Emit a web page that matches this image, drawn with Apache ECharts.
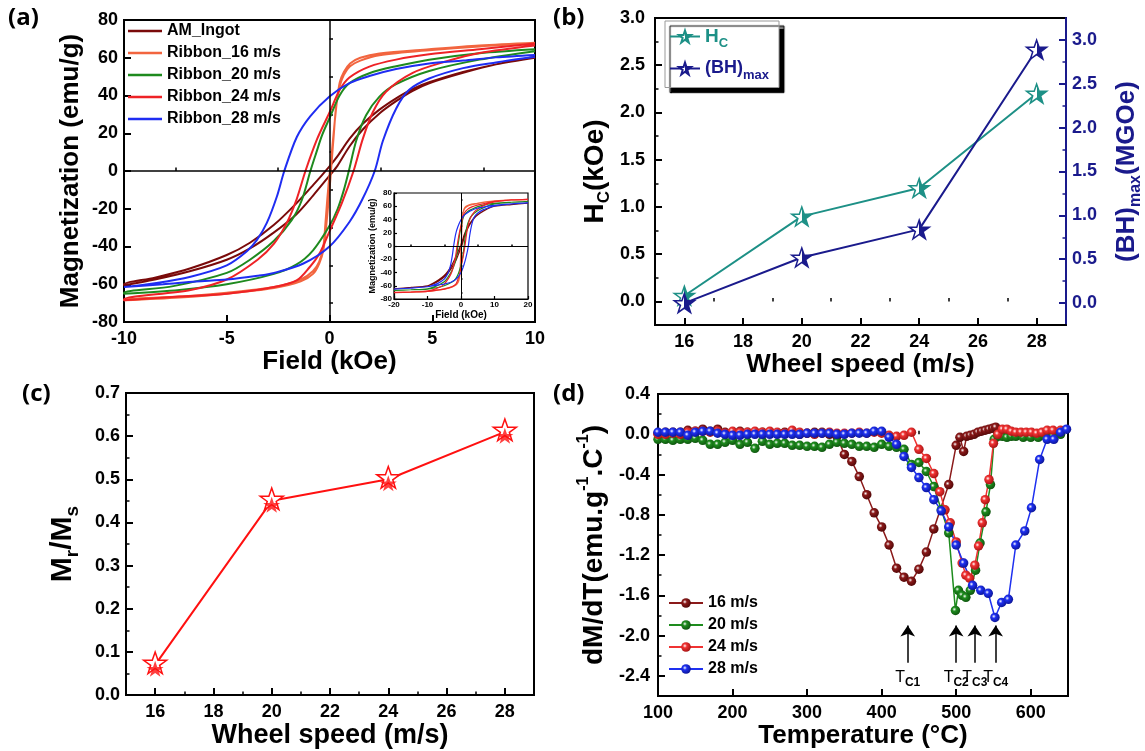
<!DOCTYPE html>
<html>
<head>
<meta charset="utf-8">
<title>Ribbons: hysteresis, coercivity, remanence, dM/dT</title>
<script src="https://cdn.jsdelivr.net/npm/echarts@6/dist/echarts.min.js"></script>
<style>
html, body { margin: 0; padding: 0; background: #fff; }
#chart { width: 1145px; height: 751px; }
</style>
</head>
<body>
<div id="chart"></div>
<script>
// ---- (a) M-H loops, [field kOe, M emu/g]; upper = descending branch, lower = ascending
const ingotUpper = [[10, 60.5], [8.1, 56.5], [6.5, 52.5], [4.85, 47], [4.05, 43.5], [3.24, 38.5], [2.43, 32.5], [1.62, 25], [0.97, 17], [0.4, 8], [0, 2.5], [-0.8, -7.5], [-1.6, -17], [-2.7, -28.5], [-3.87, -38], [-5, -44.5], [-6.76, -51.5], [-8.5, -56.5], [-10, -60]];
const ingotLower = [[-10, -60.5], [-8.5, -57.5], [-6.76, -53], [-5, -47], [-3.87, -41], [-2.7, -32.5], [-1.62, -23], [-0.8, -13], [0, -2.5], [0.4, 3], [0.97, 13], [1.62, 22], [2.43, 30.5], [3.24, 37], [4.05, 42.5], [4.85, 46.5], [6.5, 52], [8.1, 56.5], [10, 60]];
const r16Upper = [[10, 68], [7.3, 66.5], [4.85, 64.5], [2.43, 62.3], [1.5, 60], [1.0, 57], [0.7, 52.5], [0.5, 47], [0.35, 36], [0.2, 20], [0.08, 6], [0, -2], [-0.1, -14], [-0.2, -28], [-0.3, -40], [-0.5, -48], [-0.8, -53], [-1.4, -57.5], [-2.7, -61.5], [-5, -64.5], [-7.3, -66.5], [-10, -68]];
const r16Lower = [[-10, -68.5], [-7.3, -67], [-5, -65], [-2.7, -62], [-1.4, -58.5], [-0.8, -54.5], [-0.5, -49], [-0.3, -42], [-0.15, -28], [0, -10], [0.1, 4], [0.2, 18], [0.32, 34], [0.5, 45], [0.7, 51], [1.0, 55.5], [1.5, 58.5], [2.43, 61.3], [4.85, 64], [7.3, 66], [10, 67.5]];
const r20Upper = [[10, 64.5], [7.3, 62.4], [4.85, 59], [3.24, 55.5], [1.94, 51.8], [0.97, 46.5], [0.49, 40], [0, 28], [-0.36, 19], [-0.65, 9.5], [-0.93, 0], [-1.35, -15.5], [-1.84, -26], [-2.7, -37], [-3.87, -47], [-5, -54], [-7.6, -61], [-10, -64.5]];
const r20Lower = [[-10, -65], [-7.3, -63], [-5, -60], [-2.7, -54.5], [-1.6, -49.5], [-0.8, -42], [0, -29], [0.4, -20], [0.7, -10], [0.94, 0], [1.3, 16], [1.78, 29.5], [2.43, 39.4], [3.24, 46], [4.85, 53], [7.3, 59], [10, 63.5]];
const r24Upper = [[10, 67.5], [7.3, 64.5], [4.85, 61.8], [3.24, 59], [1.94, 55.3], [0.97, 49.5], [0.5, 43], [0, 31], [-0.6, 17], [-1.17, 0], [-1.6, -15], [-2.08, -27.5], [-2.7, -38.5], [-3.5, -47], [-5, -57.5], [-6.76, -63], [-10, -68]];
const r24Lower = [[-10, -68.5], [-7.3, -66.5], [-5, -65], [-2.7, -61.5], [-1.6, -58], [-0.97, -51], [-0.5, -44], [0, -32], [0.6, -17], [1.17, 0], [1.62, 17], [2.1, 31], [2.75, 42], [4.05, 52], [5.66, 58], [7.3, 62.5], [10, 66.5]];
const r28Upper = [[10, 61.5], [8.1, 60.2], [6.5, 58.5], [4.85, 57], [3.24, 54], [1.94, 50.3], [0.97, 46.5], [0, 39.5], [-0.94, 29], [-1.59, 18], [-2.2, 0], [-2.56, -13.5], [-3.05, -27.5], [-3.53, -36.5], [-4.02, -42.5], [-5, -50], [-6.76, -56], [-8.5, -59.5], [-10, -61.5]];
const r28Lower = [[-10, -61.5], [-8.1, -60], [-6.5, -58.5], [-5, -57.5], [-3.5, -55.5], [-2.7, -54], [-1.27, -49], [0, -40], [0.97, -27], [1.6, -15], [2.2, 0], [2.6, 16], [3.24, 33], [3.88, 43], [4.85, 49], [6.5, 54.5], [8.1, 57.5], [10, 60.5]];

// inset: high-field ends of each loop at these fields
const tailFields = [20, 15, -15, -20];
const ingotTail = [64.5, 62.5, -62.5, -64.5];
const r16Tail = [70, 69.5, -69.5, -70];
const r20Tail = [67, 66, -66, -67];
const r24Tail = [70.5, 69.5, -69.5, -70.5];
const r28Tail = [65, 63.5, -63.5, -65];

const loopNames = ['AM_Ingot', 'Ribbon_16 m/s', 'Ribbon_20 m/s', 'Ribbon_24 m/s', 'Ribbon_28 m/s'];
const loopColors = ['#7a0a0a', '#f2653f', '#1e8a1e', '#ee2226', '#1f2df2'];

// ---- (b), (c) vs wheel speed
const speeds = [16, 20, 24, 28];
const hcValues = [0.06, 0.9, 1.2, 2.2];       // kOe
const bhmaxValues = [0.0, 0.52, 0.84, 2.89];  // MGOe
const mrmsValues = [0.07, 0.45, 0.50, 0.61];

// ---- (d) dM/dT curves, [T degC, dM/dT]
const dmdt16 = [[100, 0.01], [110, 0.02], [120, 0.02], [130, 0.02], [140, 0.04], [150, 0.03], [160, 0.05], [170, 0.03], [180, 0.05], [190, 0.02], [200, 0.01], [210, 0.03], [220, 0.02], [230, 0.01], [240, 0.02], [250, 0.02], [260, 0.01], [270, 0.02], [280, 0.02], [290, 0.0], [300, 0.01], [310, 0.02], [320, 0.02], [330, 0.0], [340, -0.02], [350, -0.2], [360, -0.27], [370, -0.42], [380, -0.6], [390, -0.78], [400, -0.92], [410, -1.1], [420, -1.33], [430, -1.42], [440, -1.46], [450, -1.34], [460, -1.17], [470, -0.94], [490, -0.5], [500, -0.11], [505, -0.03], [510, -0.17], [514, -0.02], [519, -0.01], [524, 0.0], [529, 0.02], [534, 0.03], [539, 0.04], [544, 0.05], [549, 0.06], [553, 0.07]];
const dmdt20 = [[100, -0.05], [110, -0.05], [120, -0.06], [130, -0.05], [140, -0.05], [150, -0.04], [160, -0.06], [170, -0.1], [180, -0.1], [190, -0.08], [200, -0.06], [210, -0.1], [220, -0.08], [230, -0.14], [240, -0.07], [250, -0.1], [260, -0.09], [270, -0.09], [280, -0.11], [290, -0.11], [300, -0.12], [310, -0.12], [320, -0.13], [330, -0.1], [340, -0.08], [350, -0.09], [360, -0.1], [370, -0.12], [380, -0.12], [390, -0.13], [400, -0.1], [410, -0.12], [420, -0.13], [430, -0.15], [440, -0.3], [450, -0.28], [460, -0.37], [470, -0.52], [480, -0.75], [490, -0.98], [499, -1.75], [503, -1.55], [508, -1.6], [513, -1.62], [519, -1.55], [526, -1.35], [532, -1.08], [540, -0.77], [546, -0.5], [551, -0.05], [556, -0.02], [562, -0.02], [568, -0.03], [574, -0.02], [580, -0.02], [590, -0.03], [600, -0.03], [610, -0.03], [620, -0.02], [630, -0.02], [640, 0.0]];
const dmdt24 = [[100, 0.0], [110, 0.0], [120, 0.01], [130, 0.0], [140, 0.02], [150, 0.03], [160, 0.03], [170, 0.02], [180, 0.03], [190, 0.01], [200, 0.03], [210, 0.02], [220, 0.02], [230, 0.03], [240, 0.02], [250, 0.03], [260, 0.02], [270, 0.01], [280, 0.04], [290, 0.02], [300, 0.01], [310, 0.0], [320, 0.01], [330, 0.02], [340, 0.01], [350, 0.01], [360, 0.01], [370, 0.02], [380, 0.01], [390, 0.02], [400, 0.01], [410, -0.01], [420, -0.02], [430, -0.01], [440, 0.02], [450, -0.15], [460, -0.24], [470, -0.39], [478, -0.57], [485, -0.75], [492, -0.88], [500, -1.07], [508, -1.28], [513, -1.4], [518, -1.43], [525, -1.3], [530, -1.11], [535, -0.88], [539, -0.65], [544, -0.45], [550, -0.09], [556, 0.0], [562, 0.05], [568, 0.05], [574, 0.03], [580, 0.02], [587, 0.02], [594, 0.02], [601, 0.02], [608, 0.01], [615, 0.02], [622, 0.04], [630, 0.04], [640, 0.04]];
const dmdt28 = [[100, 0.02], [110, 0.02], [120, 0.02], [130, 0.02], [140, -0.01], [150, 0.02], [160, 0.03], [170, 0.03], [180, 0.01], [190, 0.0], [200, -0.01], [210, -0.01], [220, 0.0], [230, 0.0], [240, 0.0], [250, 0.0], [260, 0.0], [270, 0.0], [280, 0.0], [290, 0.0], [300, 0.01], [310, 0.01], [320, 0.01], [330, 0.01], [340, 0.0], [350, 0.0], [360, 0.01], [370, 0.01], [380, 0.01], [390, 0.03], [400, 0.03], [410, -0.03], [420, -0.1], [430, -0.22], [440, -0.33], [450, -0.43], [460, -0.53], [470, -0.65], [480, -0.76], [490, -0.92], [500, -1.1], [510, -1.28], [522, -1.5], [533, -1.55], [543, -1.58], [552, -1.82], [561, -1.67], [570, -1.64], [580, -1.1], [592, -0.96], [601, -0.73], [612, -0.25], [622, -0.05], [631, -0.05], [640, 0.02], [648, 0.05]];
const dmdtNames = ['16 m/s', '20 m/s', '24 m/s', '28 m/s'];
const dmdtColors = ['#8b1a1a', '#1e8c1e', '#f03232', '#1e30f0'];
const dmdtDark = ['#4a0505', '#0c4d0c', '#9c0f0f', '#0a128c'];
const tcTemps = [435, 500, 525, 553];
const tcLabels = ['C1', 'C2', 'C3', 'C4'];

// ---- tick values
const fieldMajor = [-10, -5, 0, 5, 10], fieldMinor = [-7.5, -2.5, 2.5, 7.5];
const magMajor = [-80, -60, -40, -20, 0, 20, 40, 60, 80], magMinor = [-70, -50, -30, -10, 10, 30, 50, 70];
const insetFieldMajor = [-20, -10, 0, 10, 20], insetFieldMinor = [-15, -5, 5, 15];
const speedMajor = [16, 18, 20, 22, 24, 26, 28], speedMinor = [17, 19, 21, 23, 25, 27];
const hcMajor = [0, 0.5, 1, 1.5, 2, 2.5, 3], hcMinor = [0.25, 0.75, 1.25, 1.75, 2.25, 2.75];
const bhMajor = [0, 0.5, 1, 1.5, 2, 2.5, 3], bhMinor = [0.25, 0.75, 1.25, 1.75, 2.25, 2.75];
const mrMajor = [0, 0.1, 0.2, 0.3, 0.4, 0.5, 0.6, 0.7], mrMinor = [0.05, 0.15, 0.25, 0.35, 0.45, 0.55, 0.65];
const tempMajor = [100, 200, 300, 400, 500, 600], tempMinor = [150, 250, 350, 450, 550];
const dmMajor = [0.4, 0, -0.4, -0.8, -1.2, -1.6, -2.0, -2.4], dmMinor = [0.2, -0.2, -0.6, -1.0, -1.4, -1.8, -2.2];

const FONT = 'Liberation Sans';
const NAVY = '#1a1a8c', TEAL = '#1d9086', RED = '#ff1010';
const STAR = 'path://M50 2 L61.8 36.2 L97.6 36.2 L68.6 57.4 L79.6 91.6 L50 70.4 L20.4 91.6 L31.4 57.4 L2.4 36.2 L38.2 36.2 Z';

function nameStyle(size, color) {
  color = color || '#000';
  const sub = Math.round(size * 0.62);
  return {
    fontFamily: FONT, fontWeight: 'bold', fontSize: size, color: color,
    rich: {
      n: {fontFamily: FONT, fontWeight: 'bold', fontSize: size, color: color, lineHeight: size + 8},
      s: {fontFamily: FONT, fontWeight: 'bold', fontSize: sub, color: color, lineHeight: sub, verticalAlign: 'bottom'},
      p: {fontFamily: FONT, fontWeight: 'bold', fontSize: sub - 1, color: color, lineHeight: sub, verticalAlign: 'top'}
    }
  };
}

// main axis (labels + long ticks) and an overlaid axis that only carries the short minor ticks
function axisPair(gridIndex, min, max, major, minor, pos, o) {
  const color = o.color || '#000';
  const len = o.tickLen || 7;
  const main = {
    type: 'value', gridIndex: gridIndex, min: min, max: max, position: pos,
    axisLine: {show: true, onZero: false, lineStyle: {color: color, width: o.lineWidth || 2}},
    axisTick: {show: true, inside: true, length: len, customValues: major, lineStyle: {color: color, width: o.lineWidth || 2}},
    axisLabel: {show: true, customValues: major, formatter: o.fmt, margin: o.margin || 8,
      color: color, fontFamily: FONT, fontWeight: 'bold', fontSize: o.fontSize || 18},
    splitLine: {show: false},
    name: o.name || '', nameLocation: 'middle', nameGap: o.nameGap || 30,
    nameTextStyle: nameStyle(o.nameSize || 26, color)
  };
  const sub = {
    type: 'value', gridIndex: gridIndex, min: min, max: max, position: pos,
    axisLine: {show: false}, axisLabel: {show: false}, splitLine: {show: false},
    axisTick: {show: true, inside: true, length: len / 2, customValues: minor, lineStyle: {color: color, width: 1.5}}
  };
  return [main, sub];
}

const fix1 = v => v.toFixed(1);

const xAxes = [].concat(
  axisPair(0, -10, 10, fieldMajor, fieldMinor, 'bottom', {name: 'Field (kOe)', nameGap: 27}),
  axisPair(1, -20, 20, insetFieldMajor, insetFieldMinor, 'bottom', {name: 'Field (kOe)', nameGap: 9, nameSize: 10, fontSize: 8, margin: 2, tickLen: 3, lineWidth: 1.2}),
  axisPair(2, 15, 29, speedMajor, speedMinor, 'bottom', {name: 'Wheel speed (m/s)', nameGap: 25}),
  axisPair(3, 15, 29, speedMajor, speedMinor, 'bottom', {name: 'Wheel speed (m/s)', nameGap: 25, nameSize: 27}),
  axisPair(4, 100, 650, tempMajor, tempMinor, 'bottom', {name: 'Temperature (°C)', nameGap: 25})
);
const yAxes = [].concat(
  axisPair(0, -80, 80, magMajor, magMinor, 'left', {name: 'Magnetization (emu/g)', nameGap: 40, margin: 6}),
  axisPair(1, -80, 80, magMajor, magMinor, 'left', {name: 'Magnetization (emu/g)', nameGap: 13, nameSize: 9, fontSize: 8, margin: 2, tickLen: 3, lineWidth: 1.2}),
  axisPair(2, -0.25, 3, hcMajor, hcMinor, 'left', {name: '{n|H}{s|C}{n|(kOe)}', nameGap: 42, nameSize: 28, fmt: fix1, margin: 10}),
  axisPair(2, -0.25, 3.25, bhMajor, bhMinor, 'right', {name: '{n|(BH)}{s|max}{n|(MGOe)}', nameGap: 44, fmt: fix1, color: NAVY, margin: 6}),
  axisPair(3, 0, 0.7, mrMajor, mrMinor, 'left', {name: '{n|M}{s|r}{n|/M}{s|s}', nameGap: 44, nameSize: 30, fmt: fix1, margin: 6}),
  axisPair(4, -2.6, 0.4, dmMajor, dmMinor, 'left', {name: '{n|dM/dT(emu.g}{p|-1}{n|.C}{p|-1}{n|)}', nameGap: 46, nameSize: 28, fmt: fix1, margin: 8})
);

const series = [];

// (a) main loops + inset loops
const uppers = [ingotUpper, r16Upper, r20Upper, r24Upper, r28Upper];
const lowers = [ingotLower, r16Lower, r20Lower, r24Lower, r28Lower];
const tails = [ingotTail, r16Tail, r20Tail, r24Tail, r28Tail];
function insetLoop(upper, lower, tail) {
  const hi = [[tailFields[0], tail[0]], [tailFields[1], tail[1]]];
  const lo = [[tailFields[2], tail[2]], [tailFields[3], tail[3]]];
  return hi.concat(upper, lo, lo.slice().reverse(), lower, hi.slice().reverse());
}
const zeroLines = width => ({
  silent: true, symbol: 'none', animation: false, label: {show: false},
  lineStyle: {color: '#000', width: width, type: 'solid'},
  data: [{xAxis: 0}, {yAxis: 0}]
});
loopNames.forEach((name, i) => {
  series.push({
    name: name, type: 'line', xAxisIndex: 0, yAxisIndex: 0,
    data: uppers[i].concat(lowers[i]), symbol: 'none', smooth: 0.3,
    lineStyle: {color: loopColors[i], width: 2}, itemStyle: {color: loopColors[i]},
    markLine: i === 0 ? zeroLines(1.5) : undefined
  });
});
loopNames.forEach((name, i) => {
  series.push({
    name: 'inset ' + name, type: 'line', xAxisIndex: 2, yAxisIndex: 2,
    data: insetLoop(uppers[i], lowers[i], tails[i]), symbol: 'none', smooth: 0.3,
    lineStyle: {color: loopColors[i], width: 1.2}, itemStyle: {color: loopColors[i]},
    markLine: i === 0 ? zeroLines(1) : undefined
  });
});

// (b) Hc and (BH)max
function halfStar(c) {
  return {type: 'linear', x: 0, y: 0, x2: 1, y2: 0,
    colorStops: [{offset: 0, color: '#fff'}, {offset: 0.5, color: '#fff'}, {offset: 0.5, color: c}, {offset: 1, color: c}]};
}
series.push({
  name: 'Hc', type: 'line', xAxisIndex: 4, yAxisIndex: 4,
  data: speeds.map((s, i) => [s, hcValues[i]]),
  symbol: STAR, symbolSize: 20, symbolKeepAspect: true,
  lineStyle: {color: TEAL, width: 2}, itemStyle: {color: halfStar(TEAL), borderColor: TEAL, borderWidth: 1.5}
});
series.push({
  name: 'BHmax', type: 'line', xAxisIndex: 4, yAxisIndex: 6,
  data: speeds.map((s, i) => [s, bhmaxValues[i]]),
  symbol: STAR, symbolSize: 20, symbolKeepAspect: true,
  lineStyle: {color: NAVY, width: 2}, itemStyle: {color: halfStar(NAVY), borderColor: NAVY, borderWidth: 1.5}
});

// (c) Mr/Ms
series.push({
  name: 'MrMs', type: 'line', xAxisIndex: 6, yAxisIndex: 8, z: 2,
  data: speeds.map((s, i) => [s, mrmsValues[i]]),
  symbol: STAR, symbolSize: 23, symbolKeepAspect: true, symbolOffset: [0, -2],
  lineStyle: {color: RED, width: 2}, itemStyle: {color: '#fff', borderColor: RED, borderWidth: 1.5}
});
series.push({
  name: 'MrMs filled', type: 'scatter', xAxisIndex: 6, yAxisIndex: 8, z: 3,
  data: speeds.map((s, i) => [s, mrmsValues[i]]),
  symbol: STAR, symbolSize: 17, symbolKeepAspect: true, symbolOffset: [0, 4],
  itemStyle: {color: RED}
});

// (d) dM/dT
function ball(c, dark) {
  return {type: 'radial', x: 0.38, y: 0.38, r: 0.7,
    colorStops: [{offset: 0, color: '#ffffff'}, {offset: 0.3, color: c}, {offset: 1, color: dark}]};
}
const dmdtData = [dmdt16, dmdt20, dmdt24, dmdt28];
dmdtNames.forEach((name, i) => {
  const s = {
    name: name, type: 'line', xAxisIndex: 8, yAxisIndex: 10,
    data: dmdtData[i], symbol: 'circle', symbolSize: 9.5, showAllSymbol: true,
    lineStyle: {color: dmdtColors[i], width: 1.5},
    itemStyle: {color: ball(dmdtColors[i], dmdtDark[i])}
  };
  if (i === 0) {
    s.markLine = {
      silent: true, animation: false, symbol: ['none', 'arrow'], symbolSize: 11,
      lineStyle: {color: '#000', width: 1.5, type: 'solid'},
      label: {
        show: true, position: 'start', distance: 4,
        formatter: p => '{t|T}{c|' + p.name + '}',
        rich: {
          t: {fontFamily: FONT, fontSize: 16, color: '#000', lineHeight: 22},
          c: {fontFamily: FONT, fontSize: 12, fontWeight: 'bold', color: '#000', lineHeight: 12, verticalAlign: 'bottom'}
        }
      },
      data: tcTemps.map((t, k) => [{name: tcLabels[k], coord: [t, -2.27]}, {name: tcLabels[k], coord: [t, -1.9]}])
    };
  }
  series.push(s);
});

const legendText = {fontFamily: FONT, fontWeight: 'bold', fontSize: 16, color: '#000'};
const titleStyle = {fontFamily: 'Open Sans', fontWeight: 'bold', fontSize: 24, color: '#000'};

const option = {
  animation: false,
  backgroundColor: '#fff',
  title: [
    {text: '(a)', left: 8, top: 6, padding: 0, textStyle: titleStyle},
    {text: '(b)', left: 553, top: 6, padding: 0, textStyle: titleStyle},
    {text: '(c)', left: 22, top: 382, padding: 0, textStyle: titleStyle},
    {text: '(d)', left: 553, top: 382, padding: 0, textStyle: titleStyle}
  ],
  grid: [
    {left: 124, top: 20, width: 411, height: 302, show: true, borderColor: '#000', borderWidth: 2, backgroundColor: '#fff'},
    {left: 394, top: 193, width: 134, height: 106, show: true, borderColor: '#000', borderWidth: 1.2, backgroundColor: '#fff'},
    {left: 655, top: 18, width: 411, height: 307, show: true, borderColor: '#000', borderWidth: 2, backgroundColor: '#fff'},
    {left: 126, top: 393, width: 408, height: 302, show: true, borderColor: '#000', borderWidth: 2, backgroundColor: '#fff'},
    {left: 658, top: 394, width: 410, height: 302, show: true, borderColor: '#000', borderWidth: 2, backgroundColor: '#fff'}
  ],
  legend: [
    {
      data: loopNames, left: 128, top: 23, orient: 'vertical', icon: 'rect',
      itemWidth: 34, itemHeight: 2.5, itemGap: 6, padding: 0,
      textStyle: Object.assign({lineHeight: 14}, legendText)
    },
    {
      data: [{name: 'Hc'}, {name: 'BHmax'}], left: 665, top: 21, orient: 'vertical',
      itemWidth: 30, itemHeight: 15, itemGap: 10, padding: [6, 10, 6, 4],
      backgroundColor: '#fff', borderColor: '#999', borderWidth: 1,
      shadowColor: '#000', shadowBlur: 1, shadowOffsetX: 5, shadowOffsetY: 5,
      formatter: n => n === 'Hc' ? '{hn|H}{hs|C}' : '{bn|(BH)}{bs|max}',
      textStyle: {
        fontFamily: FONT, fontWeight: 'bold', fontSize: 18,
        rich: {
          hn: {fontFamily: FONT, fontWeight: 'bold', fontSize: 19, color: TEAL, lineHeight: 26},
          hs: {fontFamily: FONT, fontWeight: 'bold', fontSize: 13, color: TEAL, lineHeight: 13, verticalAlign: 'bottom'},
          bn: {fontFamily: FONT, fontWeight: 'bold', fontSize: 18, color: NAVY, lineHeight: 26},
          bs: {fontFamily: FONT, fontWeight: 'bold', fontSize: 13, color: NAVY, lineHeight: 13, verticalAlign: 'bottom'}
        }
      }
    },
    {
      data: dmdtNames, left: 668, top: 595, orient: 'vertical',
      itemWidth: 34, itemHeight: 12, itemGap: 6, padding: 0,
      textStyle: Object.assign({lineHeight: 12}, legendText)
    }
  ],
  xAxis: xAxes,
  yAxis: yAxes,
  series: series
};

const chart = echarts.init(document.getElementById('chart'));
chart.setOption(option);
</script>
</body>
</html>
